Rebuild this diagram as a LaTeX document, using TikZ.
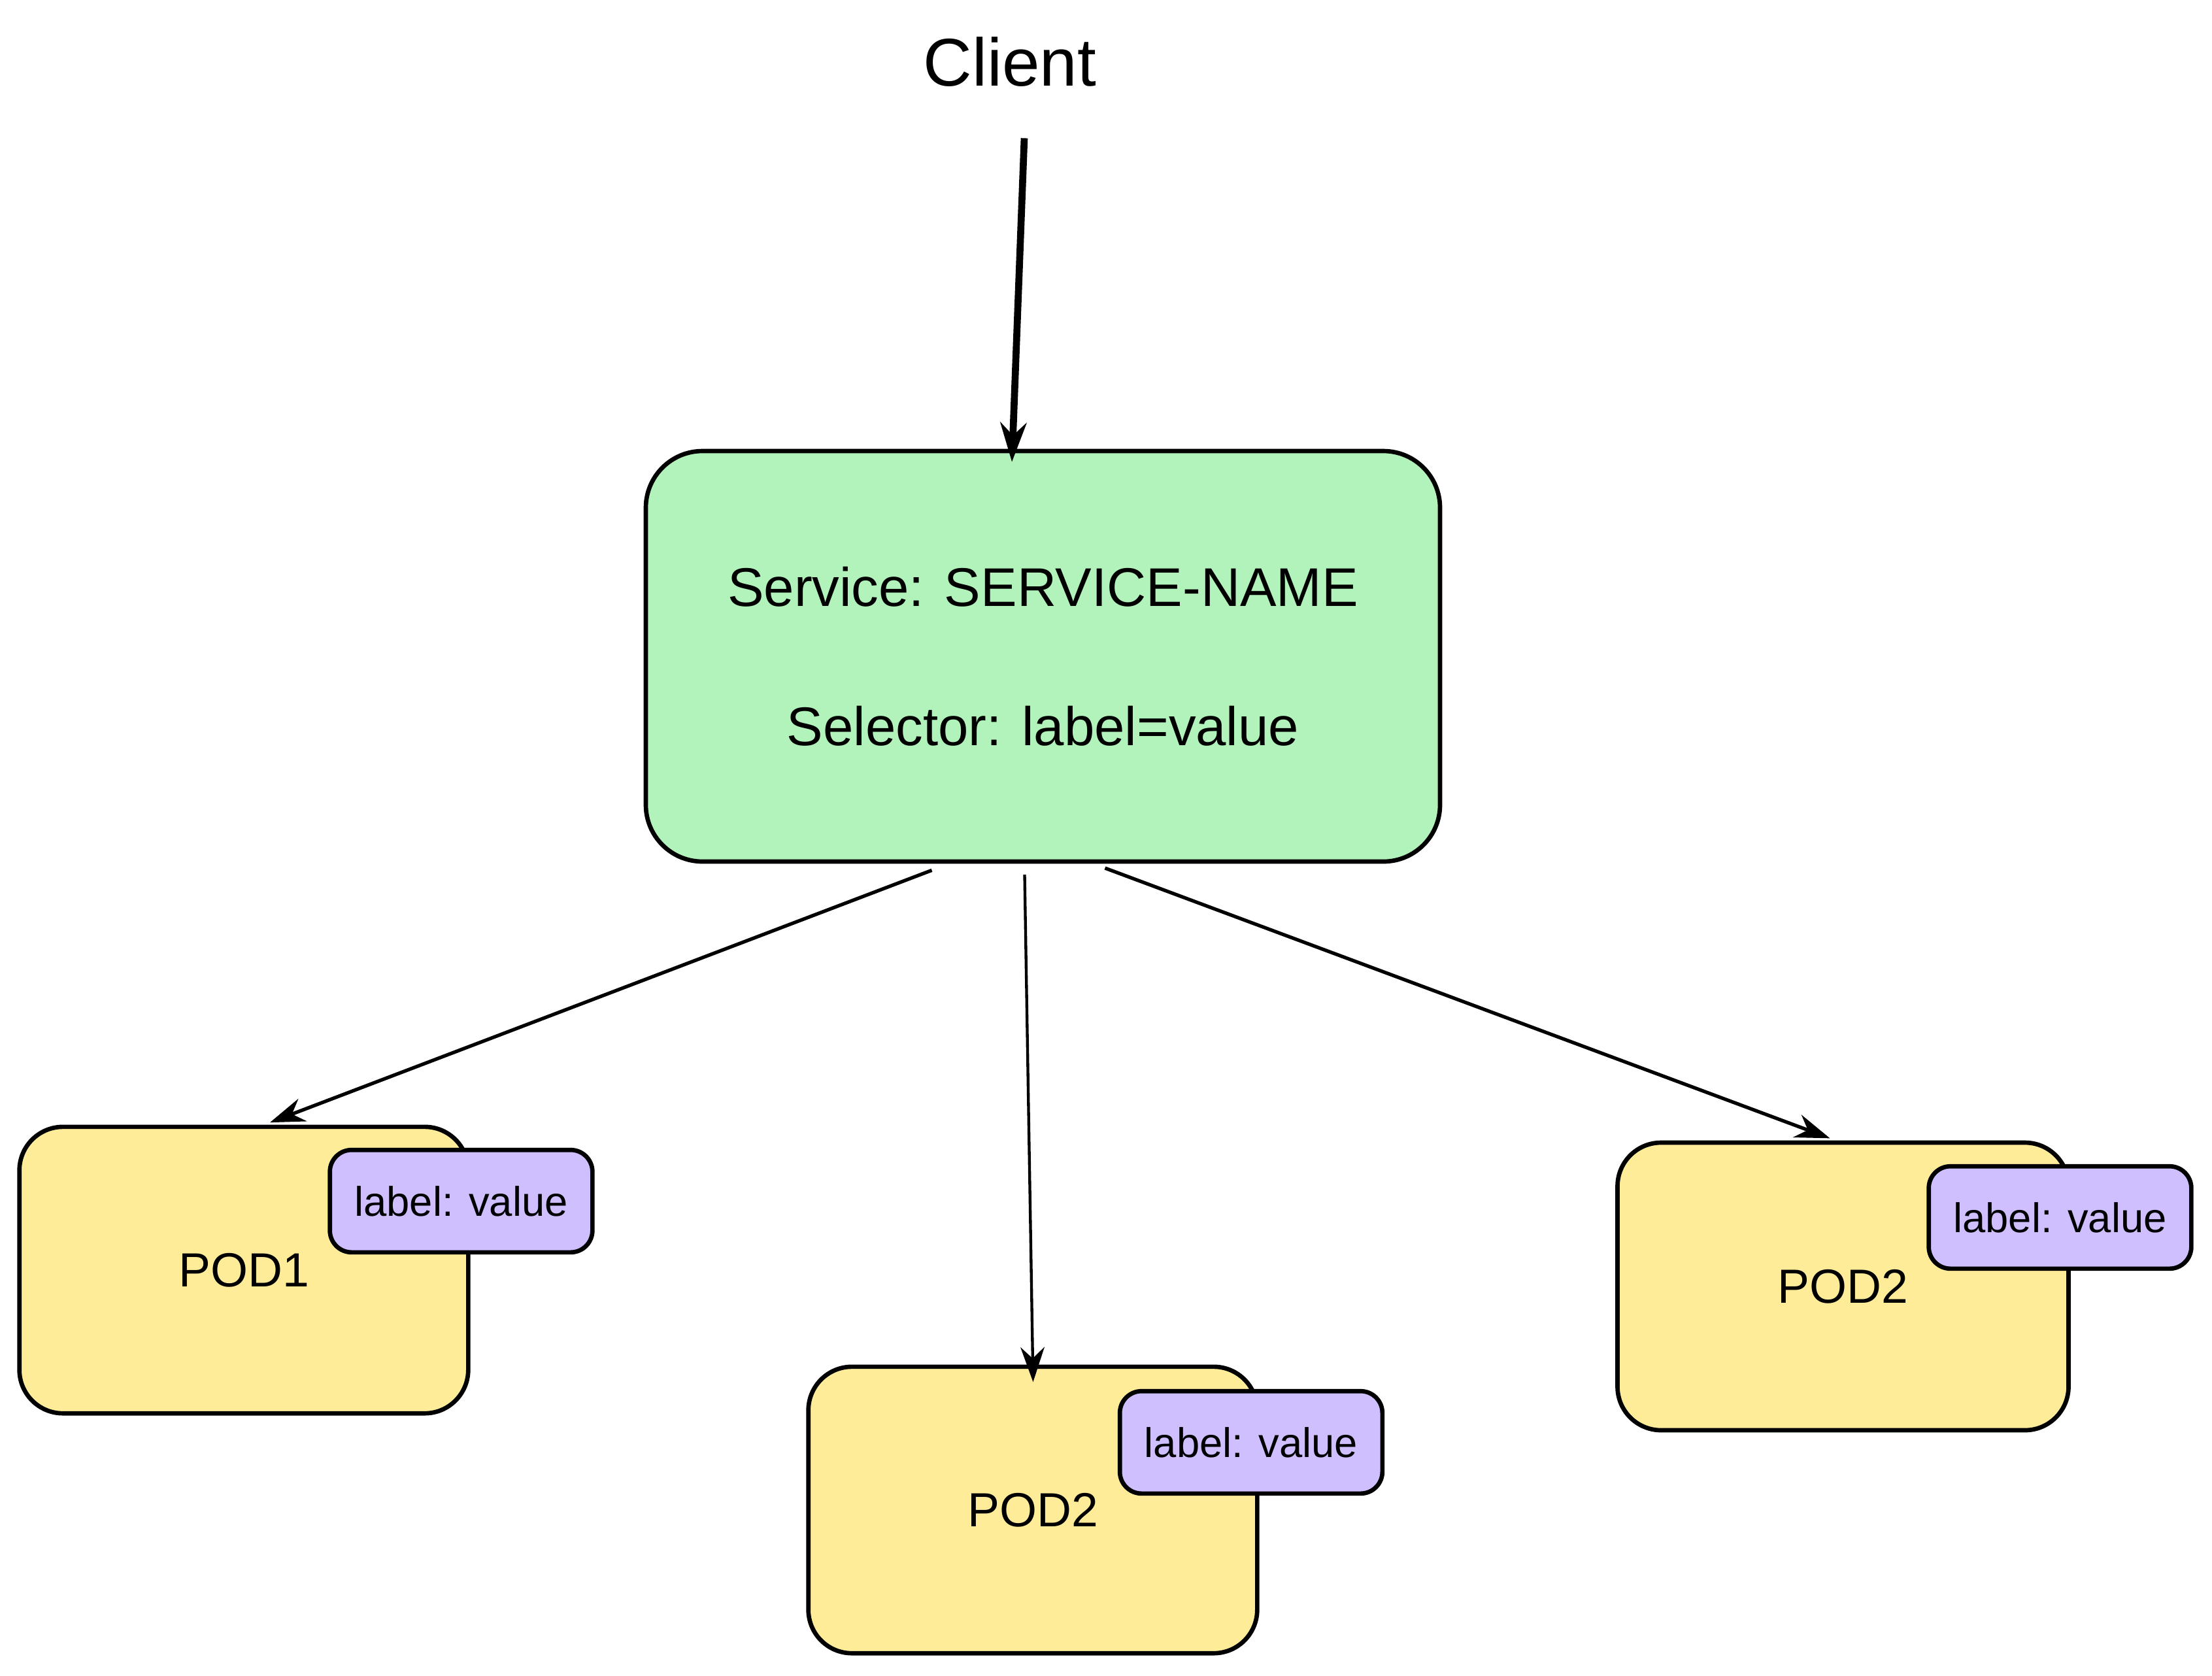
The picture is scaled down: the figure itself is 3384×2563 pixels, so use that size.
\documentclass[tikz,border=0pt]{standalone}
\usepackage{fontspec}
\setmainfont{Liberation Sans}
\usetikzlibrary{arrows.meta,calc}
\definecolor{svcgreen}{HTML}{B2F2BB}
\definecolor{podyellow}{HTML}{FFEC99}
\definecolor{lblpurple}{HTML}{D0BFFF}
\tikzset{
  svcbox/.style={draw=black, line width=2pt, fill=svcgreen, rounded corners=26pt,
    minimum width=364.5pt, minimum height=188.4pt, align=center,
    font=\fontsize{25}{64}\selectfont},
  podbox/.style={draw=black, line width=2pt, fill=podyellow, rounded corners=20pt,
    minimum width=206pt, minimum height=131.5pt, font=\fontsize{22}{26}\selectfont},
  lblbox/.style={draw=black, line width=2pt, fill=lblpurple, rounded corners=10pt,
    minimum width=120.5pt, minimum height=47pt, font=\fontsize{19}{22}\selectfont},
  cliarrow/.style={line width=3.2pt, -{Stealth[length=18pt,width=12pt]}},
  podarrow/.style={line width=1.6pt, -{Stealth[length=16pt,width=11pt]}},
}
\begin{document}
\begin{tikzpicture}[x=0.3pt,y=-0.3pt]
\useasboundingbox (0,0) rectangle (3384,2563);
\node[font=\fontsize{31}{36}\selectfont] (client) at (1545,95) {Client};
\node[svcbox] (service) at (1595.5,1004) {Service: SERVICE-NAME\\Selector: label=value};
\node[podbox] (pod1) at (373,1943) {POD1};
\node[podbox] (pod2m) at (1580,2310) {POD2};
\node[podbox, minimum width=207pt, minimum height=132pt] (pod2r) at (2819.5,1968) {POD2};
\node[lblbox] (l1) at (705.5,1837.5) {label: value};
\node[lblbox] (l2) at (1914,2206.5) {label: value};
\node[lblbox] (l3) at (3151.5,1862.5) {label: value};
\draw[cliarrow, shorten >=-6pt] ([xshift=6.6pt,yshift=-20pt]client.south) -- ([xshift=-14pt]service.north);
\draw[podarrow] ([xshift=-51pt,yshift=-3pt]service.south) -- ([xshift=12pt,yshift=1pt]pod1.north);
\draw[podarrow, line width=1.3pt, shorten >=-8pt] ([xshift=-8.4pt,yshift=-5pt]service.south) -- (pod2m.north);
\draw[podarrow] ([xshift=28.5pt,yshift=-2pt]service.south) -- ([xshift=-6pt,yshift=1pt]pod2r.north);
\end{tikzpicture}
\end{document}
